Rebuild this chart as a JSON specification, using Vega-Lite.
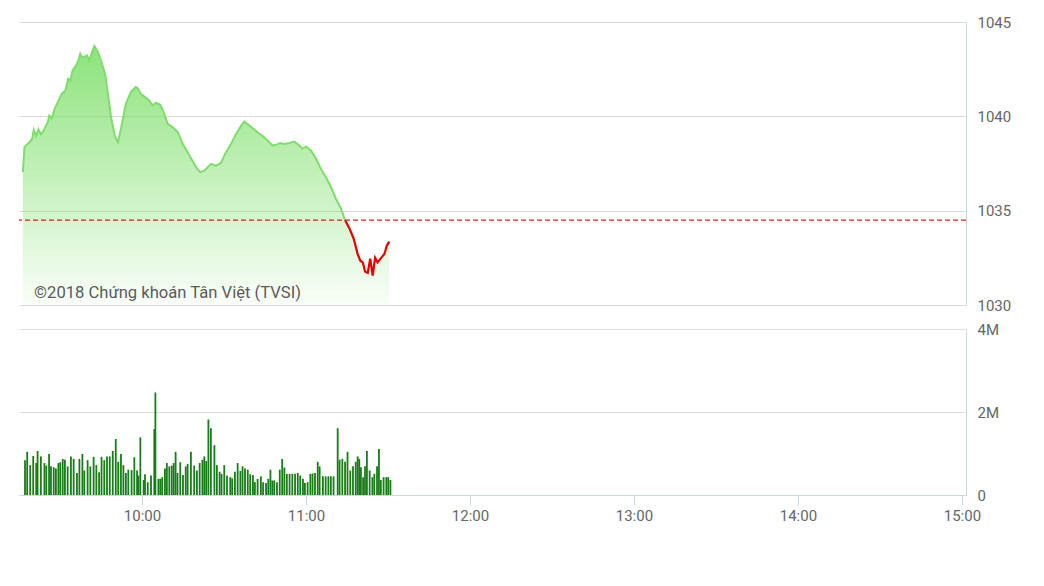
{
  "$schema": "https://vega.github.io/schema/vega-lite/v6.json",
  "background": "white",
  "padding": {"left": 18, "top": 15, "right": 0, "bottom": 0},
  "spacing": 9,
  "config": {
    "view": {"stroke": null},
    "font": "Roboto",
    "axis": {"labelColor": "#666666", "labelFontSize": 15, "labelFont": "Roboto", "title": null, "labelFlush": false}
  },
  "datasets": {
    "price": [
      {"minute": 556.4, "price": 1037.04}, {"minute": 557.0, "price": 1038.37}, {"minute": 557.8, "price": 1038.5},
      {"minute": 558.8, "price": 1038.63}, {"minute": 559.8, "price": 1038.8}, {"minute": 560.4, "price": 1039.28},
      {"minute": 561.2, "price": 1038.95}, {"minute": 562.1, "price": 1039.3}, {"minute": 563.0, "price": 1039.05},
      {"minute": 563.7, "price": 1039.15}, {"minute": 564.5, "price": 1039.4}, {"minute": 565.5, "price": 1039.69},
      {"minute": 566.1, "price": 1040.04}, {"minute": 567.0, "price": 1039.9}, {"minute": 568.0, "price": 1040.4},
      {"minute": 569.2, "price": 1040.75}, {"minute": 570.6, "price": 1041.19}, {"minute": 572.0, "price": 1041.37},
      {"minute": 573.0, "price": 1041.99}, {"minute": 573.8, "price": 1041.9}, {"minute": 574.6, "price": 1042.43},
      {"minute": 575.9, "price": 1042.7}, {"minute": 576.8, "price": 1043.0}, {"minute": 577.4, "price": 1043.32},
      {"minute": 578.0, "price": 1043.15}, {"minute": 578.7, "price": 1043.14}, {"minute": 579.9, "price": 1043.23},
      {"minute": 580.7, "price": 1042.96}, {"minute": 581.7, "price": 1043.41}, {"minute": 582.6, "price": 1043.73},
      {"minute": 583.9, "price": 1043.41}, {"minute": 585.4, "price": 1042.79}, {"minute": 586.6, "price": 1042.17},
      {"minute": 587.6, "price": 1041.1}, {"minute": 588.8, "price": 1039.87}, {"minute": 590.0, "price": 1038.98},
      {"minute": 591.2, "price": 1038.63}, {"minute": 592.3, "price": 1039.34}, {"minute": 594.1, "price": 1040.66},
      {"minute": 595.9, "price": 1041.28}, {"minute": 597.7, "price": 1041.55}, {"minute": 598.4, "price": 1041.5},
      {"minute": 599.6, "price": 1041.19}, {"minute": 601.1, "price": 1041.02}, {"minute": 602.7, "price": 1040.84},
      {"minute": 603.9, "price": 1040.57}, {"minute": 605.1, "price": 1040.72}, {"minute": 606.7, "price": 1040.61},
      {"minute": 607.9, "price": 1040.22}, {"minute": 609.4, "price": 1039.6}, {"minute": 611.2, "price": 1039.43},
      {"minute": 613.1, "price": 1039.16}, {"minute": 614.9, "price": 1038.54}, {"minute": 616.7, "price": 1038.1},
      {"minute": 619.1, "price": 1037.48}, {"minute": 620.3, "price": 1037.2}, {"minute": 621.3, "price": 1037.04},
      {"minute": 622.8, "price": 1037.12}, {"minute": 624.0, "price": 1037.3}, {"minute": 625.3, "price": 1037.48},
      {"minute": 627.1, "price": 1037.39}, {"minute": 628.9, "price": 1037.53}, {"minute": 630.4, "price": 1038.01},
      {"minute": 632.6, "price": 1038.54}, {"minute": 634.4, "price": 1039.07}, {"minute": 636.0, "price": 1039.43},
      {"minute": 637.4, "price": 1039.73}, {"minute": 639.3, "price": 1039.51}, {"minute": 641.1, "price": 1039.3},
      {"minute": 642.3, "price": 1039.16}, {"minute": 644.2, "price": 1038.95}, {"minute": 646.0, "price": 1038.72},
      {"minute": 647.8, "price": 1038.45}, {"minute": 649.0, "price": 1038.49}, {"minute": 650.6, "price": 1038.59},
      {"minute": 652.1, "price": 1038.54}, {"minute": 653.9, "price": 1038.59}, {"minute": 655.7, "price": 1038.66},
      {"minute": 657.6, "price": 1038.45}, {"minute": 658.8, "price": 1038.28}, {"minute": 660.0, "price": 1038.4},
      {"minute": 661.8, "price": 1038.19}, {"minute": 663.7, "price": 1037.75}, {"minute": 665.5, "price": 1037.21},
      {"minute": 667.3, "price": 1036.77}, {"minute": 669.2, "price": 1036.24}, {"minute": 671.0, "price": 1035.62},
      {"minute": 672.8, "price": 1035.12}, {"minute": 674.3, "price": 1034.5}, {"minute": 675.9, "price": 1034.06},
      {"minute": 677.5, "price": 1033.5}, {"minute": 678.9, "price": 1032.7}, {"minute": 679.9, "price": 1032.35},
      {"minute": 680.8, "price": 1032.26}, {"minute": 681.6, "price": 1031.77}, {"minute": 682.6, "price": 1031.7},
      {"minute": 683.5, "price": 1032.46}, {"minute": 684.4, "price": 1031.56}, {"minute": 685.3, "price": 1032.5},
      {"minute": 686.2, "price": 1032.26}, {"minute": 687.5, "price": 1032.5}, {"minute": 688.7, "price": 1032.7},
      {"minute": 689.6, "price": 1033.15}, {"minute": 690.5, "price": 1033.36}
    ],
    "volume": [
      {"minute": 557.2, "volume": 840000}, {"minute": 558.0, "volume": 1040000}, {"minute": 559.1, "volume": 720000},
      {"minute": 560.2, "volume": 940000}, {"minute": 561.3, "volume": 770000}, {"minute": 561.8, "volume": 1060000},
      {"minute": 563.0, "volume": 930000}, {"minute": 564.3, "volume": 770000}, {"minute": 565.0, "volume": 710000},
      {"minute": 566.0, "volume": 990000}, {"minute": 566.7, "volume": 690000}, {"minute": 567.7, "volume": 670000},
      {"minute": 568.5, "volume": 640000}, {"minute": 569.4, "volume": 770000}, {"minute": 570.1, "volume": 790000},
      {"minute": 571.0, "volume": 870000}, {"minute": 571.8, "volume": 850000}, {"minute": 572.8, "volume": 690000},
      {"minute": 574.0, "volume": 930000}, {"minute": 575.0, "volume": 870000}, {"minute": 576.2, "volume": 530000},
      {"minute": 577.1, "volume": 870000}, {"minute": 578.2, "volume": 990000}, {"minute": 578.9, "volume": 590000},
      {"minute": 580.1, "volume": 840000}, {"minute": 581.1, "volume": 690000}, {"minute": 582.3, "volume": 920000},
      {"minute": 583.3, "volume": 720000}, {"minute": 584.3, "volume": 550000}, {"minute": 585.2, "volume": 920000},
      {"minute": 586.2, "volume": 840000}, {"minute": 587.2, "volume": 930000}, {"minute": 588.2, "volume": 930000},
      {"minute": 589.3, "volume": 1060000}, {"minute": 590.4, "volume": 1350000}, {"minute": 591.3, "volume": 800000},
      {"minute": 592.3, "volume": 990000}, {"minute": 593.2, "volume": 720000}, {"minute": 594.1, "volume": 530000},
      {"minute": 595.0, "volume": 610000}, {"minute": 596.2, "volume": 600000}, {"minute": 597.2, "volume": 910000},
      {"minute": 598.2, "volume": 590000}, {"minute": 598.7, "volume": 470000}, {"minute": 599.4, "volume": 1390000},
      {"minute": 600.6, "volume": 360000}, {"minute": 601.1, "volume": 500000}, {"minute": 602.1, "volume": 310000},
      {"minute": 603.3, "volume": 470000}, {"minute": 604.5, "volume": 1590000}, {"minute": 604.9, "volume": 2470000},
      {"minute": 606.0, "volume": 390000}, {"minute": 606.7, "volume": 390000}, {"minute": 607.4, "volume": 430000},
      {"minute": 608.4, "volume": 640000}, {"minute": 609.1, "volume": 770000}, {"minute": 610.0, "volume": 690000},
      {"minute": 610.9, "volume": 710000}, {"minute": 611.6, "volume": 770000}, {"minute": 612.3, "volume": 1040000},
      {"minute": 613.0, "volume": 530000}, {"minute": 614.0, "volume": 790000}, {"minute": 615.0, "volume": 480000},
      {"minute": 616.0, "volume": 690000}, {"minute": 616.7, "volume": 750000}, {"minute": 617.9, "volume": 1040000},
      {"minute": 619.1, "volume": 710000}, {"minute": 620.1, "volume": 590000}, {"minute": 621.1, "volume": 770000},
      {"minute": 622.1, "volume": 850000}, {"minute": 622.8, "volume": 930000}, {"minute": 623.5, "volume": 820000},
      {"minute": 624.3, "volume": 1820000}, {"minute": 625.2, "volume": 1610000}, {"minute": 626.5, "volume": 1200000},
      {"minute": 627.4, "volume": 720000}, {"minute": 628.4, "volume": 560000}, {"minute": 629.1, "volume": 510000},
      {"minute": 630.1, "volume": 720000}, {"minute": 631.1, "volume": 470000}, {"minute": 632.3, "volume": 430000},
      {"minute": 633.0, "volume": 400000}, {"minute": 634.0, "volume": 560000}, {"minute": 635.0, "volume": 770000},
      {"minute": 636.0, "volume": 580000}, {"minute": 636.8, "volume": 690000}, {"minute": 637.7, "volume": 640000},
      {"minute": 638.7, "volume": 610000}, {"minute": 639.6, "volume": 500000}, {"minute": 640.6, "volume": 480000},
      {"minute": 641.3, "volume": 310000}, {"minute": 642.3, "volume": 390000}, {"minute": 643.5, "volume": 450000},
      {"minute": 644.3, "volume": 310000}, {"minute": 645.4, "volume": 290000}, {"minute": 646.2, "volume": 390000},
      {"minute": 647.0, "volume": 610000}, {"minute": 647.7, "volume": 350000}, {"minute": 648.4, "volume": 350000},
      {"minute": 649.4, "volume": 310000}, {"minute": 650.4, "volume": 610000}, {"minute": 651.3, "volume": 870000},
      {"minute": 652.1, "volume": 660000}, {"minute": 653.0, "volume": 510000}, {"minute": 654.0, "volume": 510000},
      {"minute": 655.0, "volume": 510000}, {"minute": 656.0, "volume": 510000}, {"minute": 657.0, "volume": 530000},
      {"minute": 657.9, "volume": 470000}, {"minute": 658.9, "volume": 390000}, {"minute": 659.6, "volume": 290000},
      {"minute": 660.6, "volume": 310000}, {"minute": 661.6, "volume": 510000}, {"minute": 662.4, "volume": 520000},
      {"minute": 663.3, "volume": 530000}, {"minute": 664.3, "volume": 800000}, {"minute": 665.0, "volume": 690000},
      {"minute": 666.2, "volume": 450000}, {"minute": 667.2, "volume": 450000}, {"minute": 668.2, "volume": 450000},
      {"minute": 669.1, "volume": 450000}, {"minute": 670.1, "volume": 450000}, {"minute": 671.6, "volume": 1610000},
      {"minute": 672.3, "volume": 850000}, {"minute": 673.3, "volume": 870000}, {"minute": 674.3, "volume": 800000},
      {"minute": 675.2, "volume": 1040000}, {"minute": 676.2, "volume": 590000}, {"minute": 677.2, "volume": 690000},
      {"minute": 678.2, "volume": 800000}, {"minute": 678.9, "volume": 930000}, {"minute": 679.5, "volume": 870000},
      {"minute": 680.1, "volume": 670000}, {"minute": 680.9, "volume": 430000}, {"minute": 681.6, "volume": 690000},
      {"minute": 682.3, "volume": 1060000}, {"minute": 683.3, "volume": 590000}, {"minute": 684.3, "volume": 430000},
      {"minute": 685.0, "volume": 510000}, {"minute": 686.0, "volume": 690000}, {"minute": 686.7, "volume": 1110000},
      {"minute": 687.4, "volume": 360000}, {"minute": 688.4, "volume": 430000}, {"minute": 689.4, "volume": 430000},
      {"minute": 690.1, "volume": 430000}, {"minute": 690.9, "volume": 360000}
    ],
    "note": [
      {"label": "©2018 Chứng khoán Tân Việt (TVSI)", "minute": 560.5, "price": 1030.65}
    ]
  },
  "vconcat": [
    {
      "width": 947,
      "height": 283,
      "layer": [
        {
          "data": {"name": "price"},
          "mark": {
            "type": "area",
            "color": {
              "gradient": "linear", "x1": 0, "y1": 0, "x2": 0, "y2": 1,
              "stops": [
                {"offset": 0, "color": "rgba(120,222,100,0.85)"},
                {"offset": 1, "color": "rgba(120,222,100,0.04)"}
              ]
            }
          },
          "encoding": {
            "x": {"field": "minute", "type": "quantitative", "scale": {"domain": [555, 901.5], "nice": false}, "axis": null},
            "y": {
              "field": "price", "type": "quantitative",
              "scale": {"domain": [1030, 1045], "zero": false, "nice": false},
              "axis": {
                "orient": "right", "values": [1030, 1035, 1040, 1045], "format": "d", "grid": true, "gridColor": "#d9d9d9",
                "ticks": false, "domain": true, "domainColor": "#ccd6eb", "labelPadding": 11
              }
            },
            "y2": {"datum": 1030}
          }
        },
        {
          "data": {"name": "price"},
          "transform": [{"filter": "datum.minute <= 674.3"}],
          "mark": {"type": "line", "color": "#80dc6c", "strokeWidth": 2},
          "encoding": {
            "x": {"field": "minute", "type": "quantitative"},
            "y": {"field": "price", "type": "quantitative"}
          }
        },
        {
          "data": {"name": "price"},
          "transform": [{"filter": "datum.minute >= 674.3"}],
          "mark": {"type": "line", "color": "#e20000", "strokeWidth": 2.2},
          "encoding": {
            "x": {"field": "minute", "type": "quantitative"},
            "y": {"field": "price", "type": "quantitative"}
          }
        },
        {
          "data": {"name": "note"},
          "mark": {"type": "rule", "color": "#d42020", "strokeDash": [5, 3], "strokeWidth": 1.4},
          "encoding": {"y": {"datum": 1034.5}}
        },
        {
          "data": {"name": "note"},
          "mark": {"type": "text", "align": "left", "baseline": "middle", "fontSize": 16.6, "font": "Roboto", "color": "#5a5a5a"},
          "encoding": {
            "x": {"field": "minute", "type": "quantitative"},
            "y": {"field": "price", "type": "quantitative"},
            "text": {"field": "label"}
          }
        }
      ]
    },
    {
      "width": 947,
      "height": 166,
      "data": {"name": "volume"},
      "mark": {"type": "bar", "size": 1.8, "color": "#187c18", "orient": "vertical"},
      "encoding": {
        "x": {
          "field": "minute", "type": "quantitative", "scale": {"domain": [555, 901.5], "nice": false, "padding": 0},
          "axis": {
            "values": [600, 660, 720, 780, 840, 900], "labelExpr": "floor(datum.value / 60) + ':00'",
            "grid": false, "tickSize": 10, "tickColor": "#ccd6eb", "domainColor": "#ccd6eb", "labelPadding": 3
          }
        },
        "y": {
          "field": "volume", "type": "quantitative", "scale": {"domain": [0, 4000000], "nice": false},
          "axis": {
            "orient": "right", "values": [0, 2000000, 4000000],
            "labelExpr": "datum.value == 0 ? '0' : (datum.value / 1000000) + 'M'",
            "grid": true, "gridColor": "#dedede", "ticks": false, "domain": true, "domainColor": "#ccd6eb", "labelPadding": 11
          }
        }
      }
    }
  ]
}
